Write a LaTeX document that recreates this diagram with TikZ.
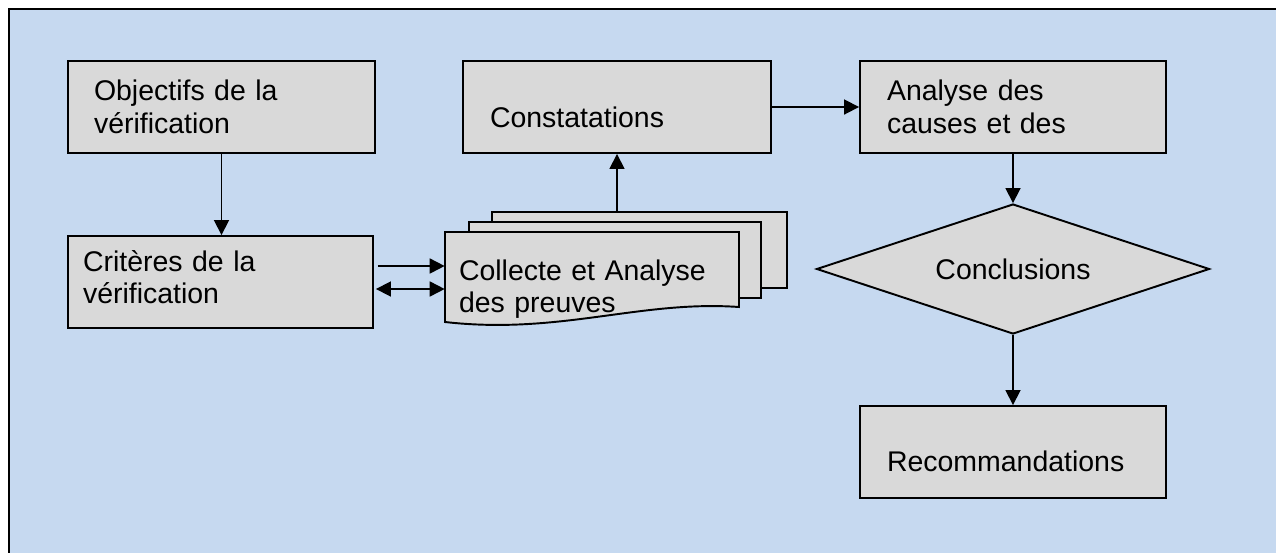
\documentclass[tikz,border=0pt]{standalone}
\usepackage{fontspec}
\setmainfont{Liberation Sans}
\usetikzlibrary{arrows.meta,shapes.geometric,positioning}
\definecolor{bgblue}{RGB}{198,217,240}
\definecolor{boxgray}{RGB}{217,217,217}

\begin{document}
\begin{tikzpicture}[x=0.02cm, y=-0.02cm,
    font=\fontsize{16.2}{18.5}\selectfont,
    >={Triangle[length=0.3cm,width=0.3cm]},
    box/.style = {draw, fill=boxgray, line width=1.1pt, minimum height=1.84cm, align=left},
    doc/.style = {draw, fill=boxgray, line width=1.1pt, minimum width=5.9cm, minimum height=1.52cm},
    decision/.style = {diamond, draw, fill=boxgray, line width=1.1pt, aspect=3.02, minimum width=7.86cm, minimum height=2.6cm, inner sep=0pt},
    link/.style = {line width=1pt}]
    \useasboundingbox (0,0) rectangle (1276,552);
    \draw[fill=bgblue, line width=1.4pt] (9,9) rectangle (1320,600);

    \node[box] (obj) [text width=5.1cm, inner xsep=0.52cm] at (221.5,107) {Objectifs de la\\vérification};
    \node[box] (crit) [text width=5.5cm, inner xsep=0.3cm, text depth=0.85cm] at (220.5,282) {Critères de la\\vérification};
    \node[box] (const) [text width=5.08cm, inner xsep=0.54cm, text height=1.0cm, text depth=0.2cm] at (617,107) {Constatations};
    \node[box] (analyse) [text width=5.04cm, inner xsep=0.54cm] at (1013,107) {Analyse des\\causes et des};
    \node[decision] (concl) at (1013,269) {Conclusions};
    \node[box] (reco) [text width=5.04cm, inner xsep=0.54cm, text height=0.96cm, text depth=0.2cm] at (1013,452) {Recommandations};

    % pile of documents
    \node[doc] (docc) at (639.5,250) {};
    \node[doc, minimum width=5.84cm] (docb) at (615,260) {};
    \filldraw[fill=boxgray, line width=1.1pt] (445,232) -- (739,232) -- (739,307)
        .. controls (640,300) and (560,335) .. (445,322) -- cycle;
    \node[align=left, text width=5.32cm, inner xsep=0.28cm, minimum width=5.88cm] (coll) at (592,289) {Collecte et Analyse\\des preuves};

    \draw[link, ->] (obj) -- (obj |- crit.north);
    \draw[link, ->] ([xshift=0.08cm, yshift=0.32cm]crit.east) -- ([yshift=0.32cm]crit.east -| coll.west);
    \draw[link, <->] ([xshift=0.04cm, yshift=-0.14cm]crit.east) -- ([yshift=-0.14cm]crit.east -| coll.west);
    \draw[link, ->] (docc.north -| const.south) -- (const.south);
    \draw[link, ->] (const) -- (analyse);
    \draw[link, ->] (analyse) -- (concl);
    \draw[link, ->] (concl) -- (reco);

\end{tikzpicture}
\end{document}
